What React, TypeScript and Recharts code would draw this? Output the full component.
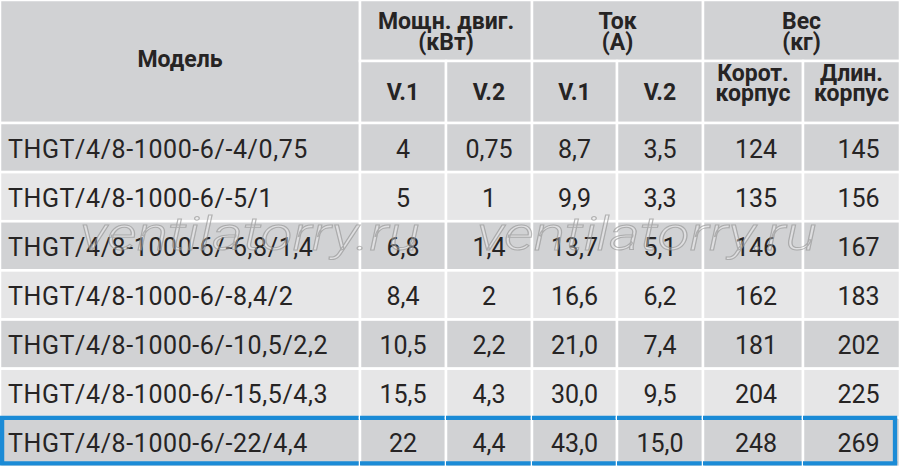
import React from 'react';
import { BarChart, Bar, XAxis, YAxis, Customized } from 'recharts';

// ---- data ----
const models = [
  'THGT/4/8-1000-6/-4/0,75',
  'THGT/4/8-1000-6/-5/1',
  'THGT/4/8-1000-6/-6,8/1,4',
  'THGT/4/8-1000-6/-8,4/2',
  'THGT/4/8-1000-6/-10,5/2,2',
  'THGT/4/8-1000-6/-15,5/4,3',
  'THGT/4/8-1000-6/-22/4,4',
];
const powerV1 = [4, 5, 6.8, 8.4, 10.5, 15.5, 22];
const powerV2 = [0.75, 1, 1.4, 2, 2.2, 4.3, 4.4];
const currentV1 = [8.7, 9.9, 13.7, 16.6, 21.0, 30.0, 43.0];
const currentV2 = [3.5, 3.3, 5.1, 6.2, 7.4, 9.5, 15.0];
const weightShort = [124, 135, 146, 162, 181, 204, 248];
const weightLong = [145, 156, 167, 183, 202, 225, 269];

const groupHeaders = [
  { lines: ['Мощн. двиг.', '(кВт)'], from: 1, to: 3 },
  { lines: ['Ток', '(А)'], from: 3, to: 5 },
  { lines: ['Вес', '(кг)'], from: 5, to: 7 },
];
const modelHeader = 'Модель';
const subHeaders = [['V.1'], ['V.2'], ['V.1'], ['V.2'], ['Корот.', 'корпус'], ['Длин.', 'корпус']];
const watermark = 'ventilatorry.ru';

// ---- layout / style ----
const W = 900;
const H = 467;
const HEADER1_H = 61;
const HEADER_H = 123;
const colWidths = [360, 86, 86, 85, 86, 100, 97];
const colDx = [0, 0, 0, 0, 0, 3, 7];
const colEdges = colWidths.reduce<number[]>((acc, w) => [...acc, acc[acc.length - 1] + w], [0]);
const DARK = '#d1d2d4';
const LIGHT = '#e6e6e7';
const TEXT = '#262424';
const BLUE = '#1b8bd6';
const FONT = 'Roboto, "DejaVu Sans", sans-serif';
const highlightRow = models.length - 1;

const comma = (v: number) => String(v).replace('.', ',');
const comma1 = (v: number) => v.toFixed(1).replace('.', ',');

const rows = models.map((m, i) => ({
  model: m,
  p1: comma(powerV1[i]),
  p2: comma(powerV2[i]),
  c1: comma1(currentV1[i]),
  c2: comma1(currentV2[i]),
  ws: String(weightShort[i]),
  wl: String(weightLong[i]),
}));
const fields = ['model', 'p1', 'p2', 'c1', 'c2', 'ws', 'wl'];

const CellShape = (props: any) => {
  const { x, y, width, height, col } = props;
  const index: number = typeof props.index === 'number' ? props.index : rows.indexOf(props.payload);
  const row = props.payload && props.payload.model ? props.payload : rows[index];
  const fill = index % 2 === 0 ? DARK : LIGHT;
  const text = row ? row[fields[col]] : '';
  const cy = y + height / 2 + 1.5;
  const isHL = index === highlightRow;
  return (
    <g>
      <rect x={x} y={y} width={width} height={height} fill={fill} stroke="#ffffff" strokeWidth={2.5} />
      <text
        x={col === 0 ? x + 8 : x + width / 2 + colDx[col]}
        y={cy}
        textAnchor={col === 0 ? 'start' : 'middle'}
        dominantBaseline="central"
        fontFamily={FONT}
        fontSize={25}
        letterSpacing={col === 0 ? 0.6 : 0}
        fill={TEXT}
      >
        {text}
      </text>
      {isHL && (
        <g stroke={BLUE} strokeWidth={4.3} fill="none">
          <line x1={col === 0 ? 0 : x} x2={col === colWidths.length - 1 ? x + width - 2.8 : x + width} y1={y} y2={y} />
          <line x1={col === 0 ? 0 : x} x2={col === colWidths.length - 1 ? x + width - 2.8 : x + width} y1={y + height - 3.4} y2={y + height - 3.4} />
          {col === 0 && <line x1={2.1} x2={2.1} y1={y} y2={y + height - 3.4} />}
          {col === colWidths.length - 1 && (
            <line x1={x + width - 5} x2={x + width - 5} y1={y} y2={y + height - 3.4} />
          )}
        </g>
      )}
    </g>
  );
};

const HeaderText = ({ x, cy, lines, gap }: { x: number; cy: number; lines: string[]; gap: number }) => (
  <text x={x} textAnchor="middle" dominantBaseline="central" fontFamily={FONT} fontSize={23} fontWeight={700} fill={TEXT}>
    {lines.map((l, i) => (
      <tspan key={i} x={x} y={cy + (i - (lines.length - 1) / 2) * gap}>
        {l}
      </tspan>
    ))}
  </text>
);

const Header = () => (
  <g>
    <rect x={0} y={0} width={colWidths[0]} height={HEADER_H} fill={DARK} stroke="#ffffff" strokeWidth={2.5} />
    <HeaderText x={colWidths[0] / 2} cy={59} lines={[modelHeader]} gap={0} />
    {groupHeaders.map((g, i) => {
      const x0 = colEdges[g.from];
      const x1 = colEdges[g.to];
      return (
        <g key={'g' + i}>
          <rect x={x0} y={0} width={x1 - x0} height={HEADER1_H} fill={DARK} stroke="#ffffff" strokeWidth={2.5} />
          <HeaderText x={(x0 + x1) / 2} cy={31} lines={g.lines} gap={21} />
        </g>
      );
    })}
    {subHeaders.map((s, i) => {
      const x0 = colEdges[i + 1];
      const x1 = colEdges[i + 2];
      return (
        <g key={'s' + i}>
          <rect x={x0} y={HEADER1_H} width={x1 - x0} height={HEADER_H - HEADER1_H} fill={DARK} stroke="#ffffff" strokeWidth={2.5} />
          <HeaderText x={(x0 + x1) / 2} cy={s.length > 1 ? 83 : 92} lines={s} gap={20} />
        </g>
      );
    })}
  </g>
);

const Watermark = () => (
  <svg
    width={W}
    height={H}
    style={{ position: 'absolute', left: 0, top: 0, pointerEvents: 'none' }}
  >
    {[80, 477].map((x, i) => (
      <text
        key={i}
        x={x}
        y={250}
        fontFamily={FONT}
        fontSize={47}
        fontStyle="italic"
        fontWeight={300}
        textLength={340}
        lengthAdjust="spacingAndGlyphs"
        fill="rgba(255,255,255,0.3)"
        stroke="rgba(140,140,140,0.6)"
        strokeWidth={1}
      >
        {watermark}
      </text>
    ))}
  </svg>
);

export default function App() {
  return (
    <div style={{ position: 'absolute', left: 0, top: 0, width: W, height: H, background: '#ffffff' }}>
      <BarChart
        width={W}
        height={H}
        data={rows}
        layout="vertical"
        margin={{ top: HEADER_H, right: 0, bottom: 0, left: 0 }}
        barCategoryGap={0}
        barGap={0}
      >
        <XAxis type="number" hide domain={[0, W]} />
        <YAxis type="category" dataKey="model" hide />
        {colWidths.map((w, i) => (
          <Bar
            key={i}
            dataKey={() => w}
            stackId="table"
            isAnimationActive={false}
            shape={(p: any) => <CellShape {...p} col={i} />}
          />
        ))}
        <Customized component={<Header />} />
      </BarChart>
      <Watermark />
    </div>
  );
}
